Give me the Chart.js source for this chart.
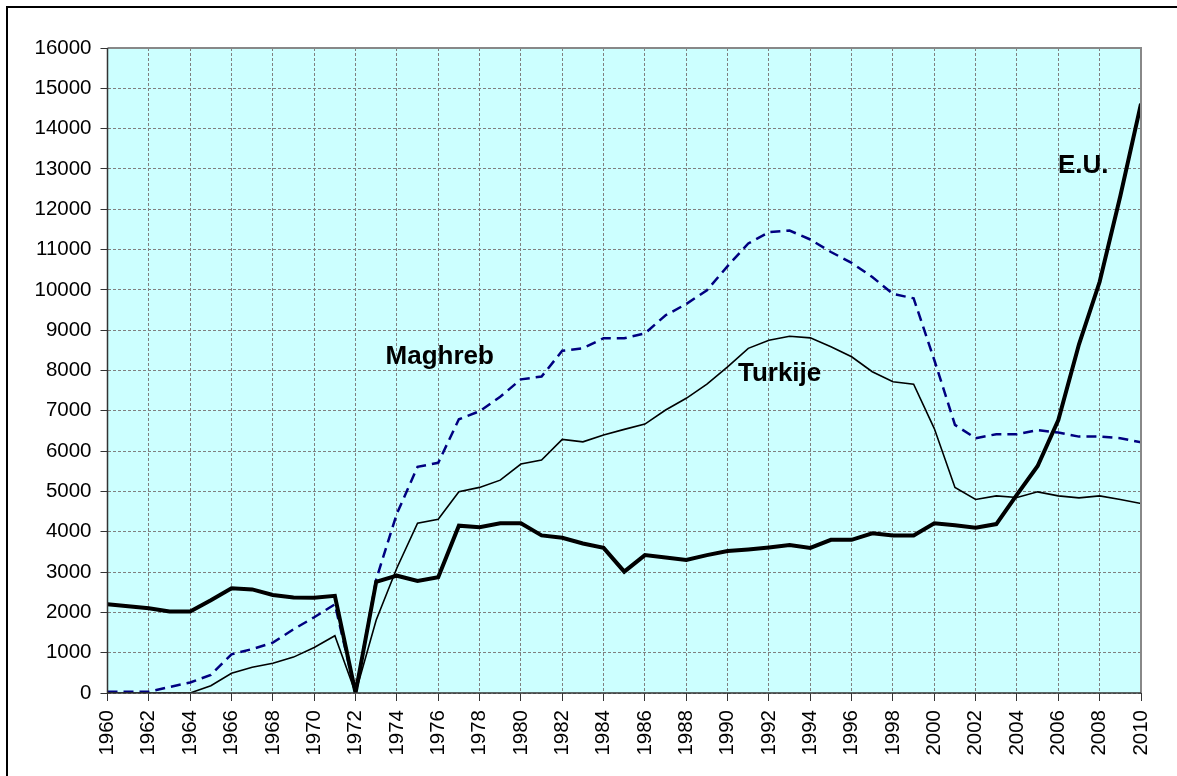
<!DOCTYPE html>
<html>
<head>
<meta charset="utf-8">
<script src="https://cdn.jsdelivr.net/npm/chart.js@4"></script>
<style>
  html, body { margin: 0; padding: 0; background: #fff; }
  #wrap { position: relative; width: 1177px; height: 776px; }
</style>
</head>
<body>
<div id="wrap"><canvas id="myChart" width="1177" height="776"></canvas></div>
<script>
// Years on the x axis
const years = [];
for (let y = 1960; y <= 2010; y++) years.push(y);

// Series values (one per year, 1960..2010)
const euValues = [
    2200, 2150, 2100, 2020, 2020, 2300, 2600, 2570, 2430, 2370,
    2360, 2410, 0, 2760, 2910, 2780, 2870, 4150, 4110, 4210,
    4210, 3910, 3850, 3710, 3600, 3010, 3420, 3360, 3300, 3420,
    3520, 3560, 3610, 3670, 3600, 3800, 3800, 3960, 3910, 3910,
    4210, 4160, 4100, 4190, 4920, 5630, 6770, 8650, 10200, 12330,
    14620
];
const turkijeValues = [
    0, 0, 0, 0, 0, 180, 490, 640, 740, 890,
    1130, 1420, 0, 1810, 3100, 4210, 4310, 4990, 5100, 5280,
    5680, 5780, 6290, 6230, 6400, 6540, 6670, 7020, 7310, 7660,
    8090, 8550, 8750, 8850, 8810, 8590, 8340, 7970, 7720, 7660,
    6560, 5100, 4800, 4890, 4850, 4990, 4890, 4840, 4890, 4800,
    4700
];
const maghrebValues = [
    30, 30, 30, 150, 260, 450, 960, 1090, 1250, 1580,
    1880, 2200, 0, 2820, 4450, 5610, 5710, 6790, 6990, 7350,
    7780, 7850, 8490, 8550, 8800, 8800, 8920, 9370, 9650, 9990,
    10590, 11150, 11430, 11470, 11250, 10940, 10670, 10320, 9900, 9790,
    8260, 6650, 6320, 6420, 6420, 6520, 6460, 6360, 6360, 6320,
    6220
];

// Labels written in the chart, at data positions
const seriesLabels = [
    { text: 'Maghreb', x: 1973.45, y: 8160 },
    { text: 'Turkije', x: 1990.5, y: 7740 },
    { text: 'E.U.', x: 2005.98, y: 12910 }
];

const yMax = 16000;
const yStep = 1000;

function toPoints(values) {
    return values.map((v, i) => ({ x: years[i], y: v }));
}

// Achtergrond van het plotgebied + kader
const plotBackground = {
    id: 'plotBackground',
    beforeDraw(chart) {
        const { ctx, chartArea: a } = chart;
        ctx.save();
        ctx.fillStyle = '#fff';
        ctx.fillRect(0, 0, chart.width, chart.height);
        // outer frame (top + left only visible)
        ctx.strokeStyle = '#000';
        ctx.lineWidth = 2;
        ctx.beginPath();
        ctx.moveTo(7, chart.height + 2);
        ctx.lineTo(7, 7);
        ctx.lineTo(chart.width + 2, 7);
        ctx.stroke();
        ctx.fillStyle = '#CCFFFF';
        ctx.fillRect(a.left, a.top, a.right - a.left, a.bottom - a.top);
        ctx.restore();
    },
    afterDatasetsDraw(chart) {
        const { ctx, chartArea: a } = chart;
        ctx.save();
        ctx.strokeStyle = '#888';
        ctx.lineWidth = 2;
        ctx.beginPath();
        ctx.moveTo(a.left, a.top);
        ctx.lineTo(a.right, a.top);
        ctx.lineTo(a.right, a.bottom);
        ctx.stroke();
        ctx.strokeStyle = '#333';
        ctx.lineWidth = 1.5;
        ctx.beginPath();
        ctx.moveTo(a.left, a.top);
        ctx.lineTo(a.left, a.bottom);
        ctx.lineTo(a.right, a.bottom);
        ctx.stroke();
        // series labels
        const xs = chart.scales.x, ys = chart.scales.y;
        ctx.fillStyle = '#000';
        ctx.font = 'bold 26px "Liberation Sans", Arial, sans-serif';
        ctx.textAlign = 'left';
        ctx.textBaseline = 'alphabetic';
        seriesLabels.forEach(l => {
            ctx.fillText(l.text, xs.getPixelForValue(l.x), ys.getPixelForValue(l.y));
        });
        ctx.restore();
    }
};

const ctx = document.getElementById('myChart').getContext('2d');
const tickFont = { family: '"Liberation Sans", Arial, sans-serif', size: 20.5 };

new Chart(ctx, {
    type: 'line',
    data: {
        datasets: [
            {
                label: 'E.U.',
                data: toPoints(euValues),
                borderColor: '#000',
                borderWidth: 4,
                pointRadius: 0,
                tension: 0
            },
            {
                label: 'Turkije',
                data: toPoints(turkijeValues),
                borderColor: '#000',
                borderWidth: 1.6,
                pointRadius: 0,
                tension: 0
            },
            {
                label: 'Maghreb',
                data: toPoints(maghrebValues),
                borderColor: '#000080',
                borderWidth: 2.5,
                borderDash: [10, 6],
                pointRadius: 0,
                tension: 0
            }
        ]
    },
    options: {
        responsive: false,
        animation: false,
        layout: { padding: { left: 0, top: 48, right: 36, bottom: 0 } },
        plugins: {
            legend: { display: false },
            title: { display: false },
            tooltip: { enabled: false }
        },
        scales: {
            x: {
                type: 'linear',
                min: 1960,
                max: 2010,
                afterFit(scale) { scale.height = 83; },
                ticks: {
                    stepSize: 2,
                    minRotation: 90,
                    maxRotation: 90,
                    autoSkip: false,
                    padding: 9,
                    color: '#000',
                    font: tickFont,
                    callback: v => String(v)
                },
                grid: {
                    color: '#808080',
                    lineWidth: 1,
                    tickLength: 8,
                    tickColor: '#333',
                    tickBorderDash: []
                },
                border: { display: false, dash: [3, 2] }
            },
            y: {
                min: 0,
                max: yMax,
                afterFit(scale) { scale.width = 107.5; },
                ticks: {
                    stepSize: yStep,
                    padding: 9,
                    color: '#000',
                    font: tickFont,
                    callback: v => String(v)
                },
                grid: {
                    color: '#808080',
                    lineWidth: 1,
                    tickLength: 7,
                    tickColor: '#333',
                    tickBorderDash: []
                },
                border: { display: false, dash: [3, 2] }
            }
        }
    },
    plugins: [plotBackground]
});
</script>
</body>
</html>
